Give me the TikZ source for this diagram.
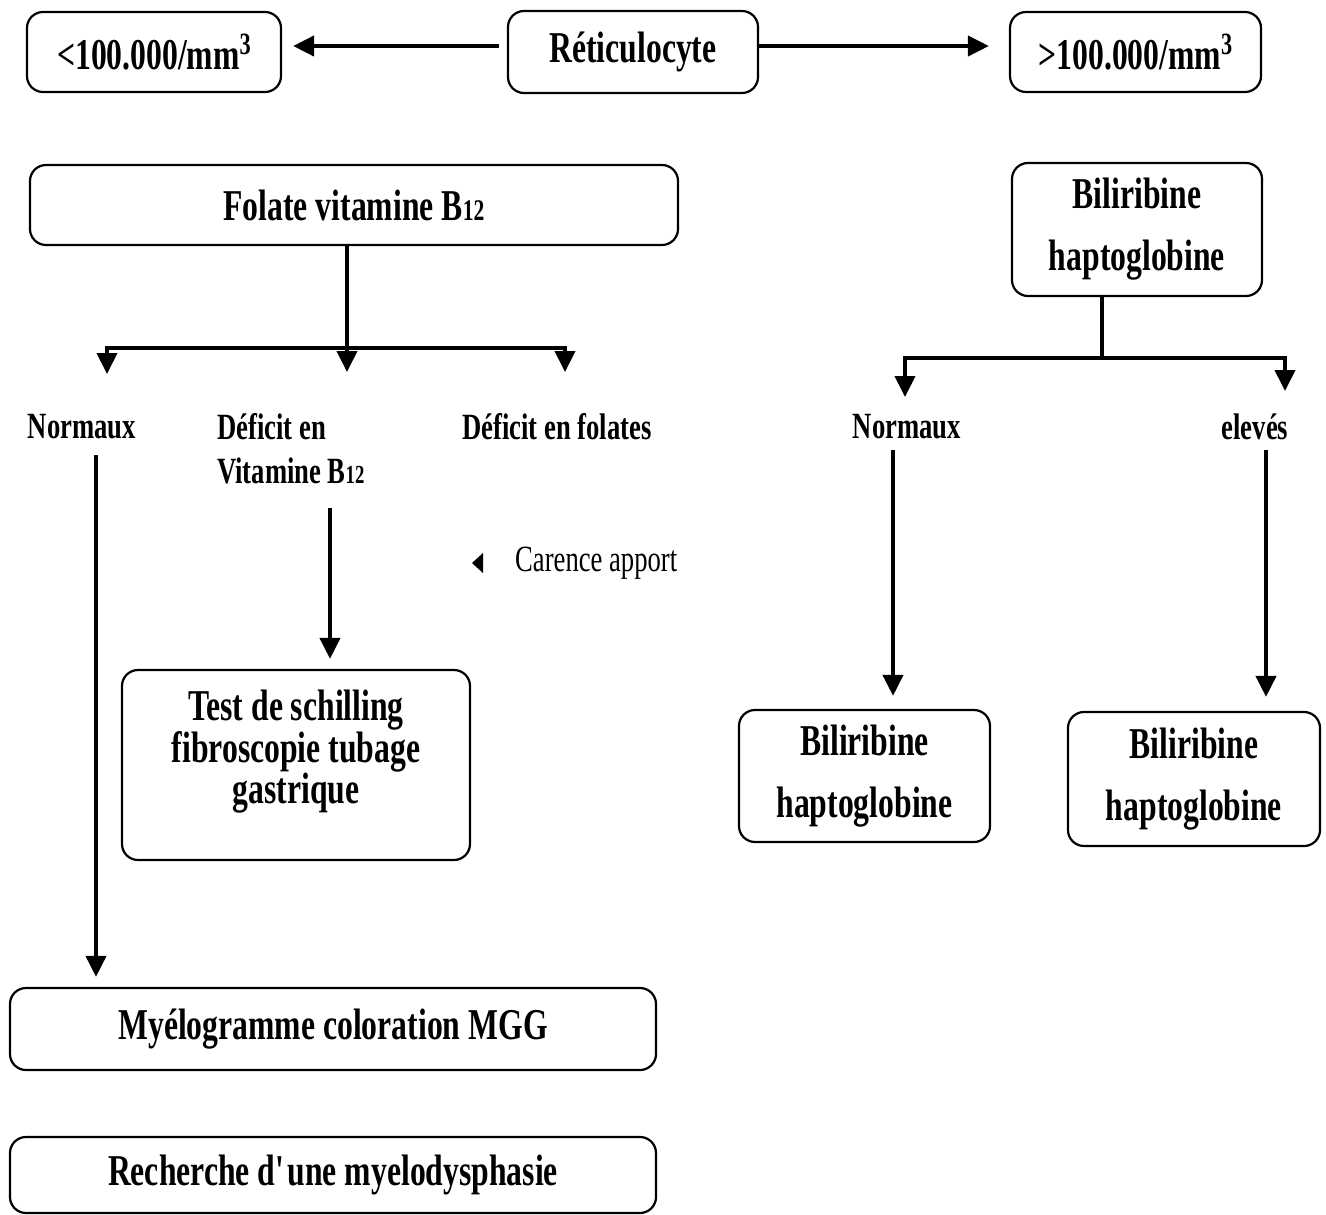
\documentclass[tikz,border=0pt]{standalone}
\usepackage{fontspec}
\setmainfont{Liberation Serif}[FakeStretch=0.72]
\usetikzlibrary{arrows.meta}
\newcommand\bxf{\fontsize{44}{50}\selectfont\bfseries}
\newcommand\bxff{\fontsize{44}{62}\selectfont\bfseries}
\newcommand\bxft{\fontsize{44}{40}\selectfont\bfseries}
\newcommand\lbf{\fontsize{37}{44}\selectfont\bfseries}
\newcommand\sbx[1]{{\fontsize{30}{30}\selectfont #1}}
\newcommand\sbl[1]{{\fontsize{26}{26}\selectfont #1}}
\newcommand\supthree{\raisebox{0.33em}{\fontsize{31}{31}\selectfont 3}}
\begin{document}
\begin{tikzpicture}[x=1pt,y=-1pt,
 box/.style={draw, line width=2.2pt, rounded corners=16pt, inner sep=0pt, align=center, font=\bxf},
 lab/.style={inner sep=0pt, font=\lbf, align=left},
 conn/.style={line width=4pt},
 arr/.style={line width=4pt, -{Triangle[length=21pt,width=20pt]}}]
\useasboundingbox (0,0) rectangle (1326,1215);
% top row
\node[box, minimum width=254pt, minimum height=80pt] (lo) at (154,52) {<100.000/mm\supthree};
\node[box, minimum width=250pt, minimum height=82pt] (ret) at (633,52) {Réticulocyte};
\node[box, minimum width=251pt, minimum height=80pt] (hi) at (1135.5,52) {>100.000/mm\supthree};
\draw[arr] ([xshift=-8pt,yshift=6pt]ret.west) -- ([xshift=11pt,yshift=6pt]lo.east);
\draw[arr] ([yshift=6pt]ret.east) -- ([xshift=-20pt,yshift=6pt]hi.west);
% left branch
\node[box, minimum width=648pt, minimum height=80pt] (fol) at (354,205) {Folate vitamine B\sbx{12}};
\coordinate (j1) at (347,348);
\coordinate (tn1) at (107,374);
\coordinate (tv1) at (347,372);
\coordinate (tf1) at (565,372);
\draw[arr] (fol.south -| j1) -- (tv1);
\draw[arr] (j1) -| (tn1);
\draw[arr] (j1) -| (tf1);
\node[lab] (n1) at (82,427) {Normaux};
\node[lab, anchor=west] (dv) at (217,449) {Déficit en\\Vitamine B\sbl{12}};
\node[lab] (df) at (557,427) {Déficit en folates};
\node[box, minimum width=646pt, minimum height=82pt] (my) at (333,1029) {Myélogramme coloration MGG};
\node[box, minimum width=646pt, minimum height=76pt] (rec) at (333,1175) {Recherche d\textquotesingle une myelodysphasie};
\coordinate (s1) at (96,455);
\draw[arr, shorten >=10pt] (s1) -- (s1 |- my.north);
\node[box, minimum width=348pt, minimum height=190pt] (test) at (296,765) {};
\node[inner sep=0pt, align=center, font=\bxft] (testT) at (296,752) {Test de schilling\\fibroscopie tubage\\gastrique};
\coordinate (s2) at (330,508);
\draw[arr, shorten >=10pt] (s2) -- (s2 |- test.north);
\fill (483,553) -- (472,563) -- (483,573) -- cycle;
\node[anchor=west, inner sep=0pt, font=\fontsize{37}{44}\selectfont] (car) at (515,563) {Carence apport};
% right branch
\node[box, font=\bxff, minimum width=250pt, minimum height=133pt] (b1) at (1137,229.5) {Biliribine\\haptoglobine};
\coordinate (j2) at (1102,358);
\coordinate (tn2) at (905,397);
\coordinate (te2) at (1285,391);
\draw[conn] (b1.south -| j2) -- (j2);
\draw[arr] (j2) -| (tn2);
\draw[arr] (j2) -| (te2);
\node[lab] (n2) at (907,427) {Normaux};
\node[lab] (el) at (1255,427) {elevés};
\node[box, font=\bxff, minimum width=251pt, minimum height=132pt] (b2) at (864.5,776) {Biliribine\\haptoglobine};
\node[box, font=\bxff, minimum width=252pt, minimum height=134pt] (b3) at (1194,779) {Biliribine\\haptoglobine};
\coordinate (s3) at (893,450);
\draw[arr, shorten >=13pt] (s3) -- (s3 |- b2.north);
\coordinate (s4) at (1266,450);
\draw[arr, shorten >=14pt] (s4) -- (s4 |- b3.north);
\end{tikzpicture}
\end{document}
